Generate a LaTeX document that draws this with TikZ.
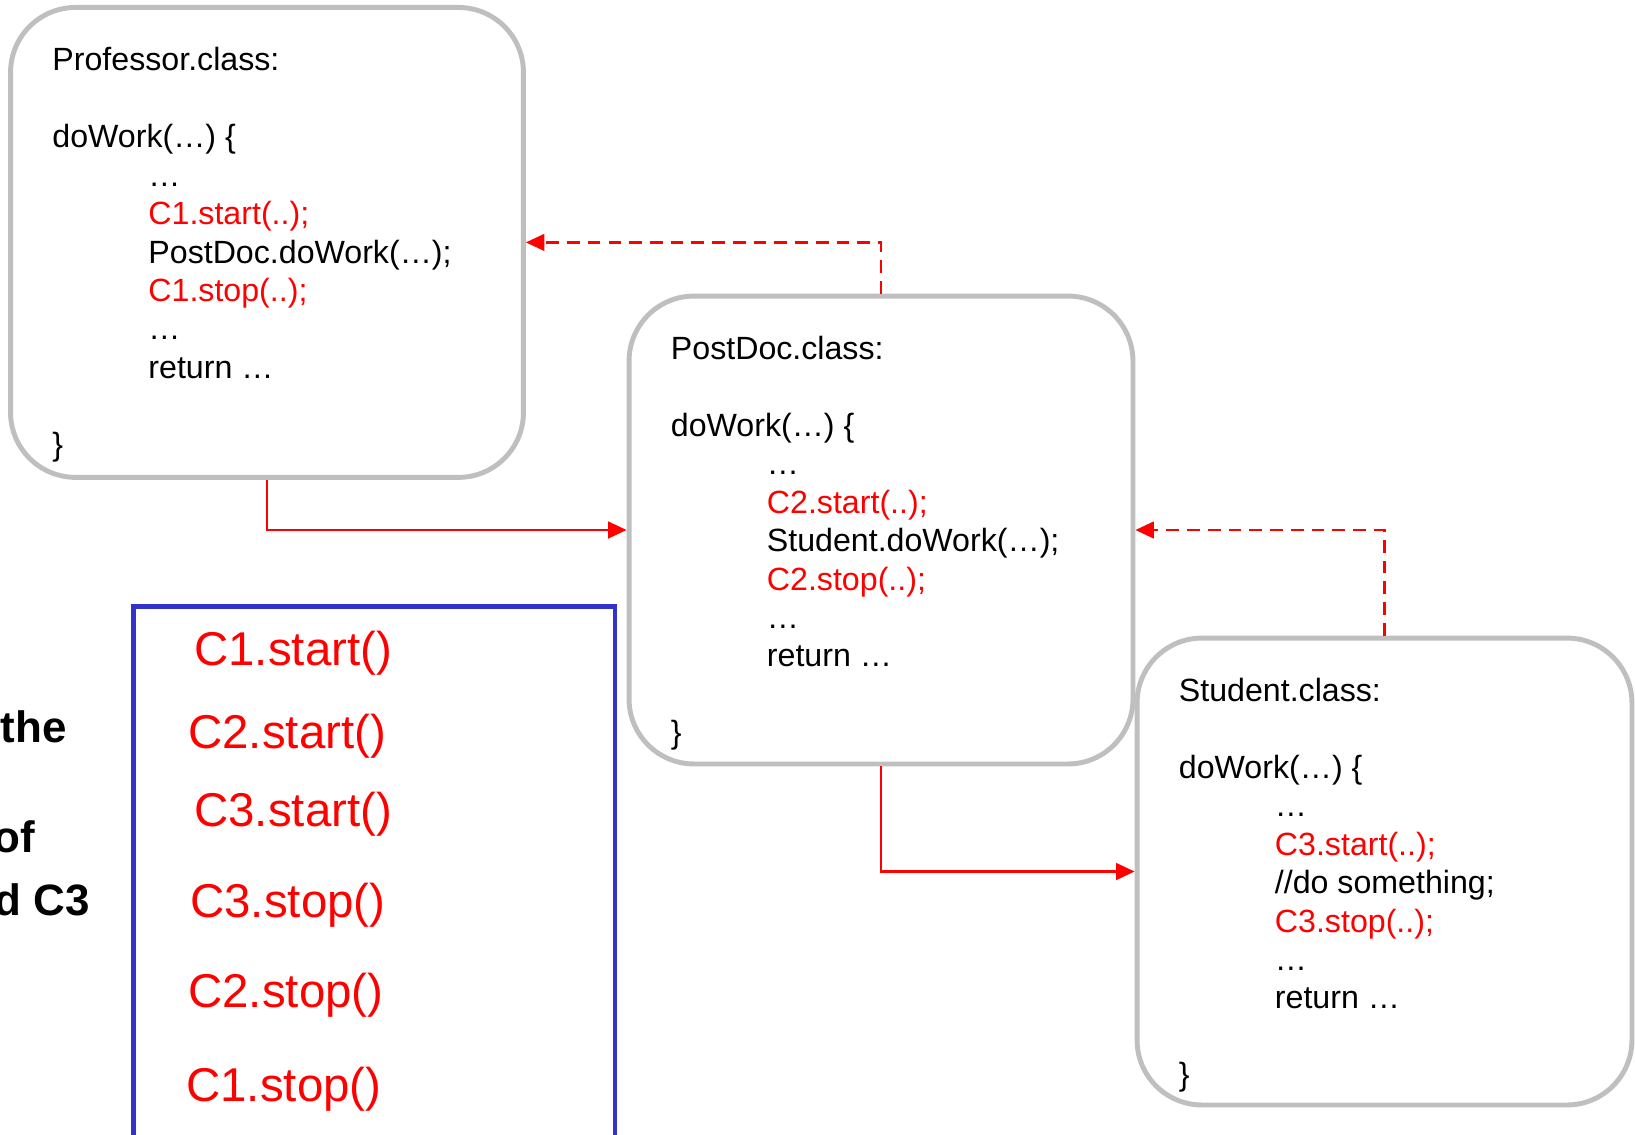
\documentclass[tikz,border=0pt]{standalone}
\usepackage{fontspec}
\setmainfont{Liberation Sans}
\usetikzlibrary{arrows.meta,calc}

\definecolor{boxgray}{RGB}{191,191,191}
\definecolor{orderblue}{RGB}{51,51,204}
\definecolor{callred}{RGB}{255,0,0}

\tikzset{
  classbox/.style={draw=boxgray, fill=white, line width=2.8pt, rounded corners=1.3cm, inner sep=0pt},
  codeline/.style={anchor=base west, inner sep=0pt, font=\fontsize{18.3}{22}\selectfont},
  orderline/.style={anchor=base west, inner sep=0pt, text=callred, font=\fontsize{27}{32}\selectfont},
  sidetext/.style={anchor=base east, inner sep=0pt, font=\bfseries\fontsize{25}{30}\selectfont},
  call/.style={draw=callred, line width=1.3pt, -{Triangle[length=10.5pt,width=9.5pt]}},
  back/.style={call, dash pattern=on 7.2pt off 4.6pt}
}

\begin{document}
\begin{tikzpicture}[x=0.02cm, y=-0.02cm]
   \path[use as bounding box, fill=white] (0,0) rectangle (1635,1134);
   \clip (0,0) rectangle (1635,1134);

   % the three classes
   \node[classbox, minimum width=10.26cm, minimum height=9.4cm]  (prof) at (267,242.4) {};
   \node[classbox, minimum width=10.08cm, minimum height=9.36cm] (post) at (881,530) {};
   \node[classbox, minimum width=9.9cm,   minimum height=9.34cm] (stud) at (1384.5,871.5) {};

   \foreach \k/\ind/\col/\txt in
     { 0/0/black/{Professor.class:},
       2/0/black/{doWork(…) \{},
       3/1/black/{…},
       4/1/callred/{C1.start(..);},
       5/1/black/{PostDoc.doWork(…);},
       6/1/callred/{C1.stop(..);},
       7/1/black/{…},
       8/1/black/{return …},
      10/0/black/{\}}
     }
     \node[codeline, text=\col] (prof-\k) at ($(prof.north west)+(44+96*\ind,66+38.4*\k)$) {\txt};

   \foreach \k/\ind/\col/\txt in
     { 0/0/black/{PostDoc.class:},
       2/0/black/{doWork(…) \{},
       3/1/black/{…},
       4/1/callred/{C2.start(..);},
       5/1/black/{Student.doWork(…);},
       6/1/callred/{C2.stop(..);},
       7/1/black/{…},
       8/1/black/{return …},
      10/0/black/{\}}
     }
     \node[codeline, text=\col] (post-\k) at ($(post.north west)+(44+96*\ind,66+38.4*\k)$) {\txt};

   \foreach \k/\ind/\col/\txt in
     { 0/0/black/{Student.class:},
       2/0/black/{doWork(…) \{},
       3/1/black/{…},
       4/1/callred/{C3.start(..);},
       5/1/black/{//do something;},
       6/1/callred/{C3.stop(..);},
       7/1/black/{…},
       8/1/black/{return …},
      10/0/black/{\}}
     }
     \node[codeline, text=\col] (stud-\k) at ($(stud.north west)+(44+96*\ind,66+38.4*\k)$) {\txt};

   % calls and returns
   \draw[call] (prof.south) |- (post.west);
   \draw[back] (post.north) |- (prof.east);
   \draw[call] (post.south) |- (stud.west);
   \draw[back] (stud.north) |- (post.east);

   % order of the counters
   \node[draw=orderblue, line width=2.8pt, minimum width=9.63cm, minimum height=11.08cm, inner sep=0pt] (order) at (374.3,883) {};
   \foreach \i/\x/\y/\txt in
     { 1/194/665/{C1.start()},
       2/188/748/{C2.start()},
       3/194/826/{C3.start()},
       4/190/917/{C3.stop()},
       5/188/1007/{C2.stop()},
       6/186/1101/{C1.stop()}
     }
     \node[orderline] (ord-\i) at (\x,\y) {\txt};

   \node[sidetext] (side-1) at (67,742) {the};
   \node[sidetext] (side-2) at (35,852) {of};
   \node[sidetext] (side-3) at (90,915) {d C3};
\end{tikzpicture}
\end{document}
